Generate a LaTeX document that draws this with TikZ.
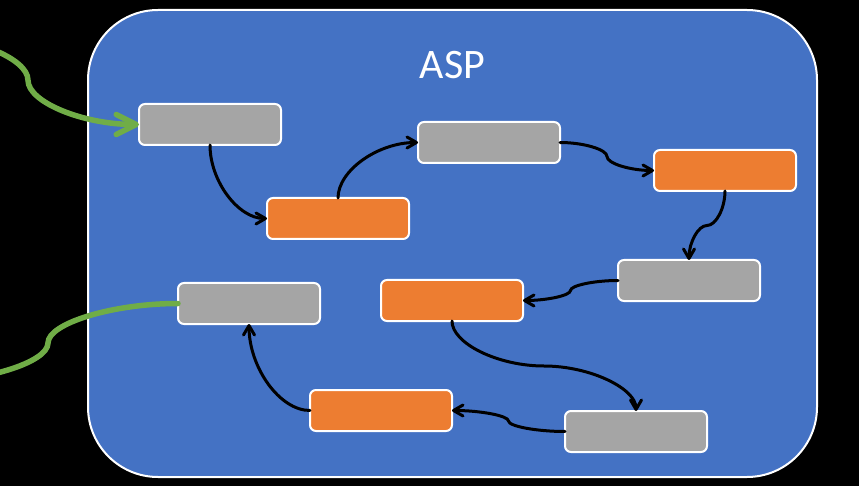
\documentclass[tikz,border=0pt]{standalone}
\usepackage{fontspec}
\setmainfont{Carlito}
\usetikzlibrary{arrows.meta,calc}
\definecolor{aspblue}{HTML}{4472C4}
\definecolor{asporange}{HTML}{ED7D31}
\definecolor{aspgray}{HTML}{A5A5A5}
\definecolor{aspgreen}{HTML}{70AD47}
\begin{document}
\begin{tikzpicture}[x=1pt,y=-1pt,
  frame/.style={draw=white, line width=2pt, fill=aspblue, rounded corners=70pt,
    minimum width=729pt, minimum height=467pt, inner sep=0pt, outer sep=0pt},
  box/.style={draw=white, line width=2pt, rounded corners=6pt,
    minimum width=142pt, minimum height=41pt, inner sep=0pt, outer sep=0pt},
  graybox/.style={box, fill=aspgray},
  orangebox/.style={box, fill=asporange},
  flow/.style={draw=black, line width=3pt, line cap=round, line join=round,
    -{Straight Barb[length=9.5pt,width=11pt,line cap=round,line join=round]}},
  greenline/.style={draw=aspgreen, line width=5.5pt, line cap=round, line join=round},
  greenarrow/.style={greenline, -{Straight Barb[length=20pt,width=20pt,line cap=round,line join=round]}},
  titletext/.style={text=white, font=\fontsize{42}{42}\selectfont, inner sep=0pt}
]
\useasboundingbox (0,0) rectangle (859,486);
\fill[black] (0,0) rectangle (859,486);
\clip (0,0) rectangle (859,486);

\node[frame] (asp) at (452.5,243.5) {};
\node[titletext] (title) at (452.5,65) {ASP};

\node[graybox]   (b1) at (210,124.5) {};
\node[orangebox] (b2) at (338,218.5) {};
\node[graybox]   (b3) at (489,142.5) {};
\node[orangebox] (b4) at (725,170.5) {};
\node[graybox]   (b5) at (689,280.5) {};
\node[orangebox] (b6) at (452,300.5) {};
\node[graybox]   (b7) at (636,431.5) {};
\node[orangebox] (b8) at (381,410.5) {};
\node[graybox]   (b9) at (249,303.5) {};

% black flow connectors
\draw[flow] (b1.south) .. controls +(0,36.5) and +(-28.5,0) .. (b2.west);
\draw[flow] (b2.north) .. controls +(0,-27.5) and +(-40,0) .. (b3.west);
\coordinate (m34) at ($(b3.east)!0.5!(b4.west)$);
\draw[flow] (b3.east) .. controls +(23.5,0) and +(0,-7) .. (m34)
  .. controls +(0,7) and +(-23.5,0) .. (b4.west);
\coordinate (m45) at ($(b4.south)!0.5!(b5.north)$);
\draw[flow] (b4.south) .. controls +(0,17.25) and +(9,0) .. (m45)
  .. controls +(-9,0) and +(0,-17.25) .. (b5.north);
\coordinate (m56) at ($(b5.west)!0.5!(b6.east)$);
\draw[flow] (b5.west) .. controls +(-23.75,0) and +(0,-5) .. (m56)
  .. controls +(0,5) and +(23.75,0) .. (b6.east);
\coordinate (m67) at ($(b6.south)!0.5!(b7.north)$);
\draw[flow] (b6.south) .. controls +(0,22.5) and +(-46,0) .. (m67)
  .. controls +(46,0) and +(0,-22.5) .. (b7.north);
\coordinate (m78) at ($(b7.west)!0.5!(b8.east)$);
\draw[flow] (b7.west) .. controls +(-28.25,0) and +(0,5.25) .. (m78)
  .. controls +(0,-5.25) and +(28.25,0) .. (b8.east);
\draw[flow] (b8.west) .. controls +(-30.5,0) and +(0,43.25) .. (b9.south);

% green connectors
\coordinate (gin) at (-83,36);
\coordinate (gmid1) at (28,80.25);
\draw[greenarrow] (gin) .. controls +(55.5,0) and +(0,-22.1) .. (gmid1)
  .. controls +(0,22.1) and +(-55.5,0) .. (b1.west);
\coordinate (gout) at (-82,382.5);
\coordinate (gmid2) at (48,343);
\draw[greenline] (b9.west) .. controls +(-65,0) and +(0,-19.75) .. (gmid2)
  .. controls +(0,19.75) and +(65,0) .. (gout);
\end{tikzpicture}
\end{document}
